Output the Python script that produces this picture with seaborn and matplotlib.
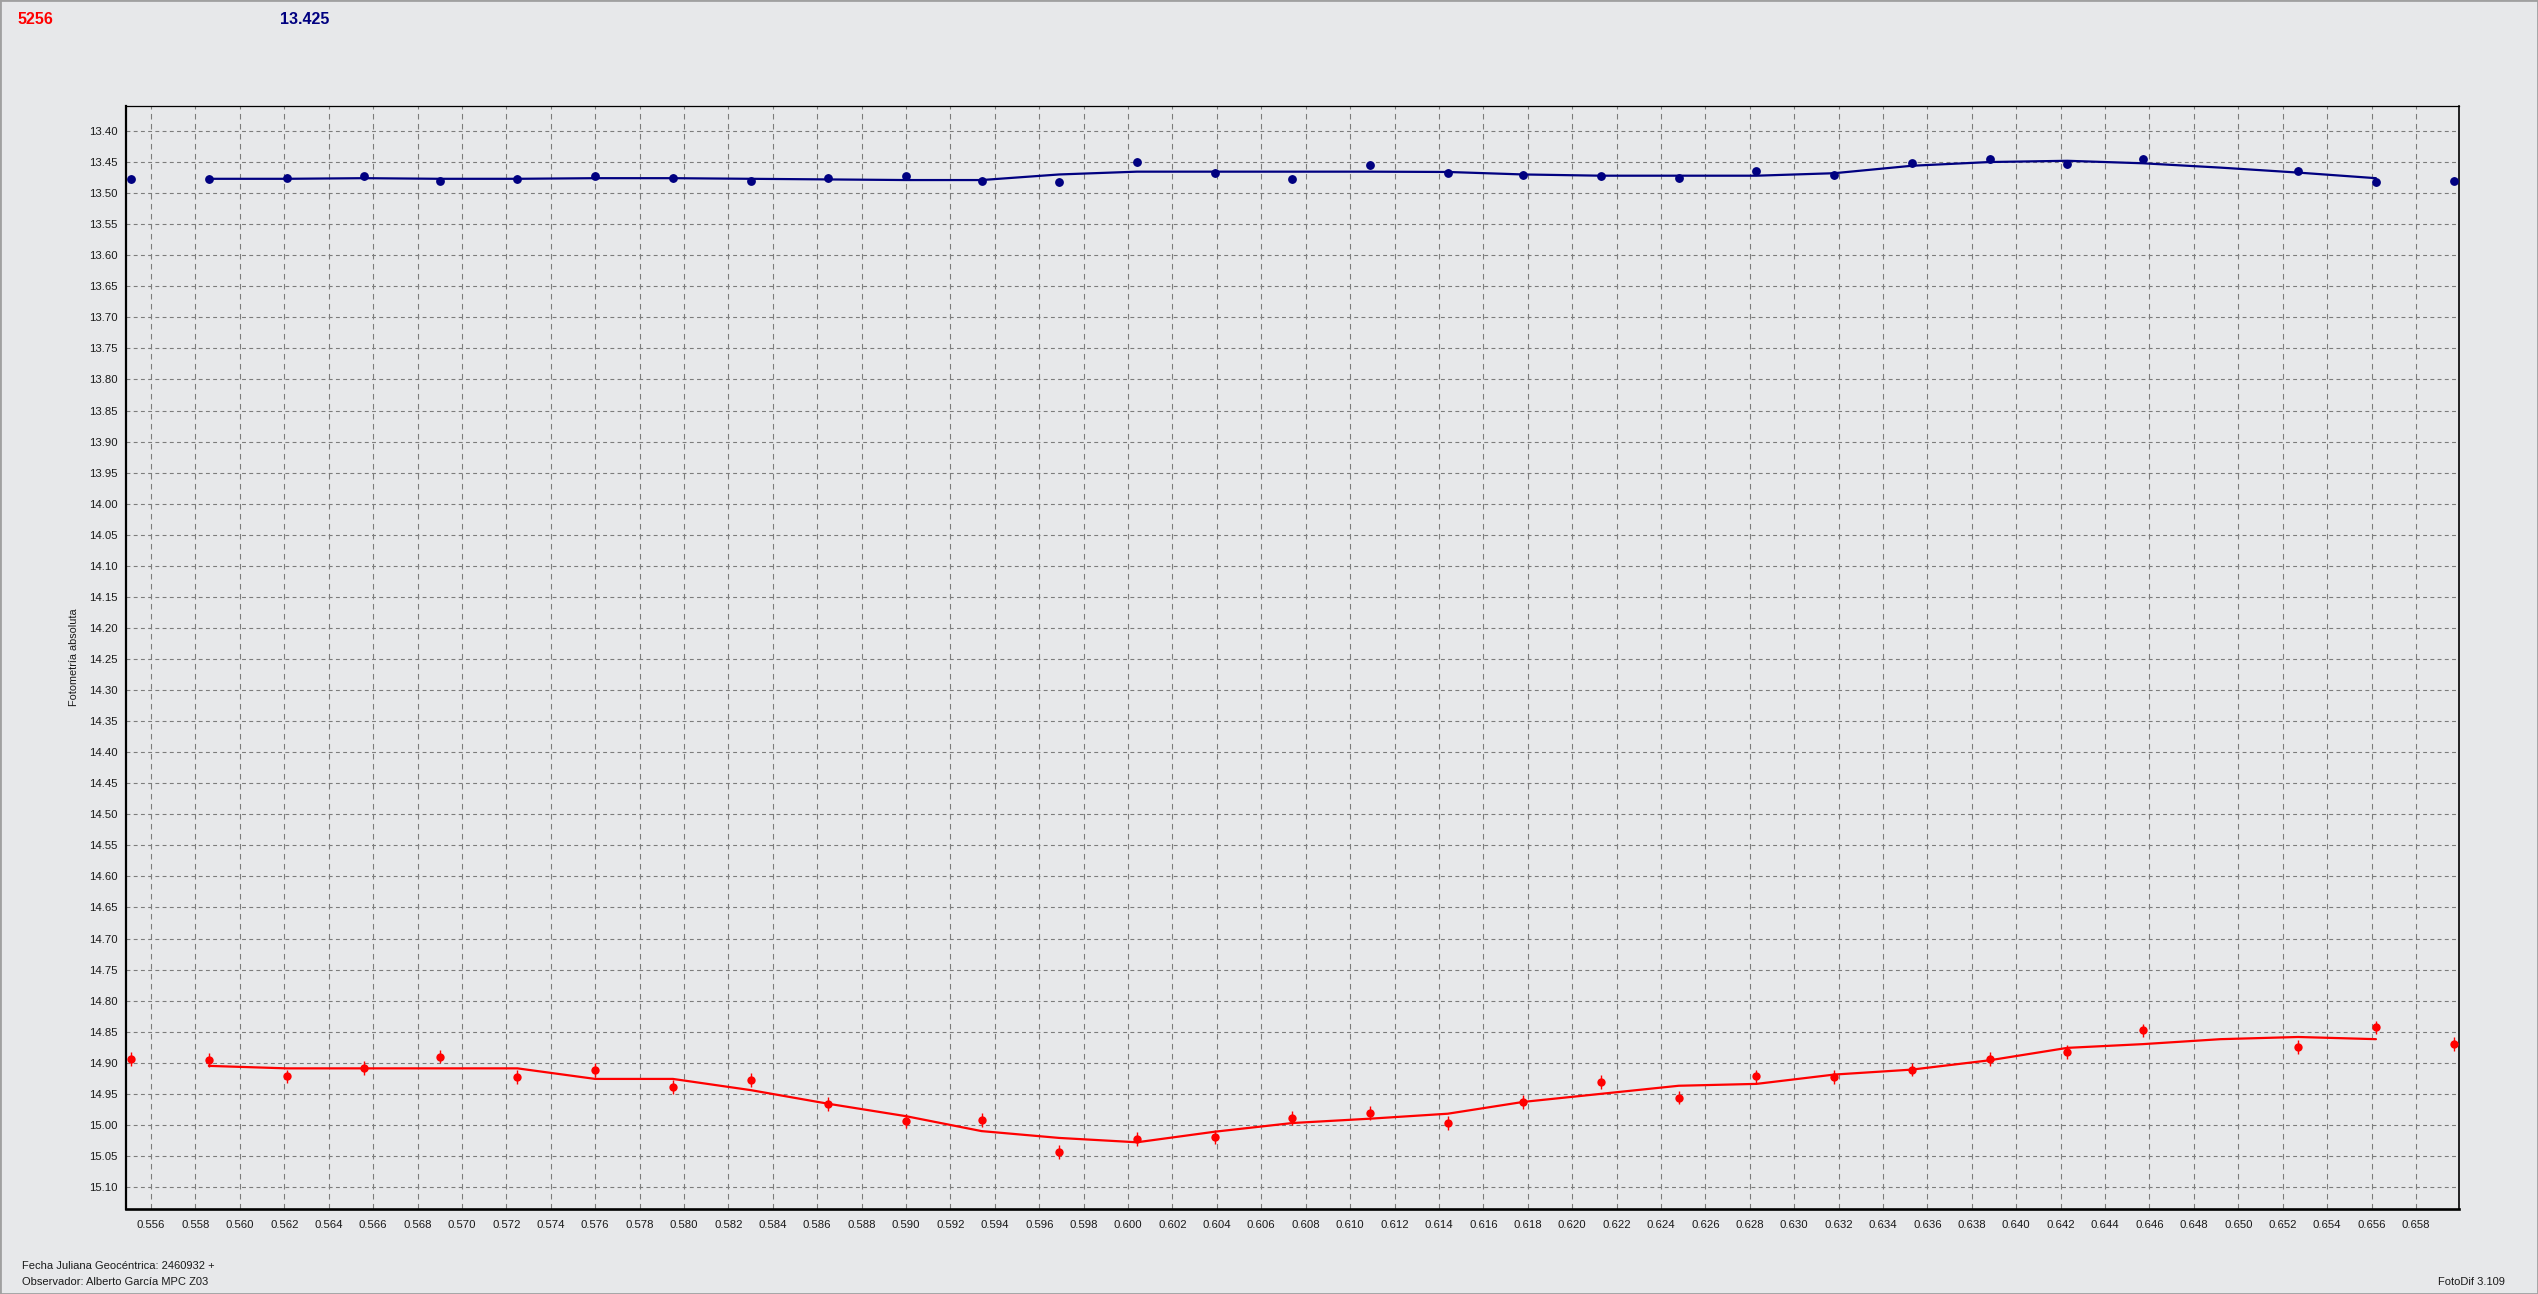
import matplotlib
matplotlib.use("Agg")
import matplotlib.pyplot as plt
from matplotlib.ticker import MultipleLocator, FormatStrFormatter
from matplotlib.patches import Rectangle
import pandas as pd
import seaborn as sns

# Observation times (JD - 2460932), one frame missing near 0.6492
obs_time = [0.5551, 0.5586, 0.5621, 0.5656, 0.5690, 0.5725, 0.5760, 0.5795,
            0.5830, 0.5865, 0.5900, 0.5934, 0.5969, 0.6004, 0.6039, 0.6074,
            0.6109, 0.6144, 0.6178, 0.6213, 0.6248, 0.6283, 0.6318, 0.6353,
            0.6388, 0.6423, 0.6457, 0.6527, 0.6562, 0.6597]

# comparison star (blue) and asteroid 5256 (red) magnitudes
comp_mag = [13.477, 13.477, 13.475, 13.473, 13.480, 13.477, 13.472, 13.476,
            13.480, 13.476, 13.473, 13.480, 13.482, 13.450, 13.468, 13.477,
            13.455, 13.467, 13.471, 13.473, 13.476, 13.465, 13.471, 13.452,
            13.445, 13.453, 13.445, 13.464, 13.482, 13.480]
target_mag = [14.894, 14.896, 14.922, 14.908, 14.890, 14.923, 14.912, 14.939,
              14.928, 14.966, 14.994, 14.992, 15.044, 15.023, 15.019, 14.989,
              14.981, 14.997, 14.963, 14.931, 14.956, 14.922, 14.923, 14.911,
              14.894, 14.883, 14.848, 14.875, 14.843, 14.870]
comp_err = 0.006
target_err = 0.011

# smoothed curves
fit_time = [0.5586, 0.5621, 0.5656, 0.5690, 0.5725, 0.5760, 0.5795, 0.5830,
            0.5865, 0.5900, 0.5934, 0.5969, 0.6004, 0.6039, 0.6074, 0.6109,
            0.6144, 0.6178, 0.6213, 0.6248, 0.6283, 0.6318, 0.6353, 0.6388,
            0.6423, 0.6457, 0.6492, 0.6527, 0.6562]
comp_fit = [13.477, 13.477, 13.476, 13.477, 13.477, 13.476, 13.476, 13.477,
            13.478, 13.479, 13.479, 13.470, 13.4655, 13.4655, 13.4655, 13.4655,
            13.466, 13.470, 13.472, 13.472, 13.472, 13.468, 13.456, 13.450,
            13.448, 13.452, 13.459, 13.467, 13.476]
target_fit = [14.905, 14.909, 14.909, 14.909, 14.909, 14.926, 14.926, 14.944,
              14.966, 14.986, 15.010, 15.021, 15.028, 15.011, 14.997, 14.990,
              14.982, 14.963, 14.950, 14.937, 14.934, 14.919, 14.911, 14.896,
              14.876, 14.870, 14.862, 14.8585, 14.862]

BG = "#E7E8EA"
NAVY = "#000080"
RED = "#FF0000"

sns.set_style("white", {"axes.facecolor": BG, "figure.facecolor": BG})
plt.rcParams["font.family"] = ["Liberation Sans", "DejaVu Sans"]

W, H = 2538, 1294
fig = plt.figure(figsize=(W / 100, H / 100), dpi=100)
ax = fig.add_axes([126 / W, 1 - 1209 / H, (2459 - 126) / W, (1209 - 106) / H])
ax.set_facecolor(BG)

obs = pd.DataFrame({"t": obs_time, "comp": comp_mag, "target": target_mag})
fit = pd.DataFrame({"t": fit_time, "comp": comp_fit, "target": target_fit})

sns.lineplot(data=fit, x="t", y="comp", color=NAVY, lw=1.6, ax=ax, zorder=3)
sns.lineplot(data=fit, x="t", y="target", color=RED, lw=1.6, ax=ax, zorder=3)

ax.errorbar(obs["t"], obs["comp"], yerr=comp_err, fmt="none",
            ecolor=NAVY, elinewidth=1, zorder=4)
ax.errorbar(obs["t"], obs["target"], yerr=target_err, fmt="none",
            ecolor=RED, elinewidth=1, zorder=4)
sns.scatterplot(data=obs, x="t", y="comp", color=NAVY, s=40,
                edgecolor=NAVY, linewidth=0, ax=ax, zorder=5)
sns.scatterplot(data=obs, x="t", y="target", color=RED, s=36, marker="o",
                edgecolor=RED, linewidth=0, ax=ax, zorder=5)

ax.set_xlim(0.55487, 0.65994)
ax.set_ylim(15.1354, 13.3598)

ax.xaxis.set_major_locator(MultipleLocator(0.002))
ax.xaxis.set_minor_locator(MultipleLocator(0.0005))
ax.xaxis.set_major_formatter(FormatStrFormatter("%.3f"))
ax.yaxis.set_major_locator(MultipleLocator(0.05))
ax.yaxis.set_minor_locator(MultipleLocator(0.01))
ax.yaxis.set_major_formatter(FormatStrFormatter("%.2f"))

ax.xaxis.grid(True, which="major", color="#7c7c7c", lw=0.8, linestyle=(0, (5, 4)))
ax.yaxis.grid(True, which="major", color="#7c7c7c", lw=0.8, linestyle=(0, (3.5, 3)))
ax.set_axisbelow(True)

ax.tick_params(axis="both", which="major", direction="out", length=4, width=0.8,
               color="black", labelsize=8.2, labelcolor="#1a1a1a", pad=2)
ax.tick_params(axis="x", which="major", pad=4)
ax.tick_params(axis="both", which="minor", direction="out", length=2.2,
               width=0.7, color="#333333")

for side, lw in [("left", 1.6), ("bottom", 1.9), ("top", 0.9), ("right", 1.2)]:
    ax.spines[side].set_visible(True)
    ax.spines[side].set_color("black")
    ax.spines[side].set_linewidth(lw)

ax.set_xlabel("")
ax.set_ylabel("Fotometría absoluta", fontsize=7.8, color="#1a1a1a")
ax.yaxis.set_label_coords((79 - 126) / (2459 - 126), 0.5)

fig.text(18 / W, 1 - 19 / H, "5256", color=RED, fontsize=11.5,
         fontweight="bold", va="center", ha="left")
fig.text(280 / W, 1 - 19 / H, "13.425", color=NAVY, fontsize=11.5,
         fontweight="bold", va="center", ha="left")
fig.text(22 / W, 1 - 1266 / H, "Fecha Juliana Geocéntrica: 2460932 +",
         fontsize=8, color="#1a1a1a", va="center", ha="left")
fig.text(22 / W, 1 - 1282 / H, "Observador: Alberto García MPC Z03",
         fontsize=8, color="#1a1a1a", va="center", ha="left")
fig.text(2438 / W, 1 - 1282 / H, "FotoDif 3.109",
         fontsize=8, color="#1a1a1a", va="center", ha="left")

fig.patches.append(Rectangle((0, 0), 1, 1, transform=fig.transFigure,
                             fill=False, edgecolor="#a0a0a0", lw=2))

fig.savefig("out.png", dpi=100, facecolor=BG)
